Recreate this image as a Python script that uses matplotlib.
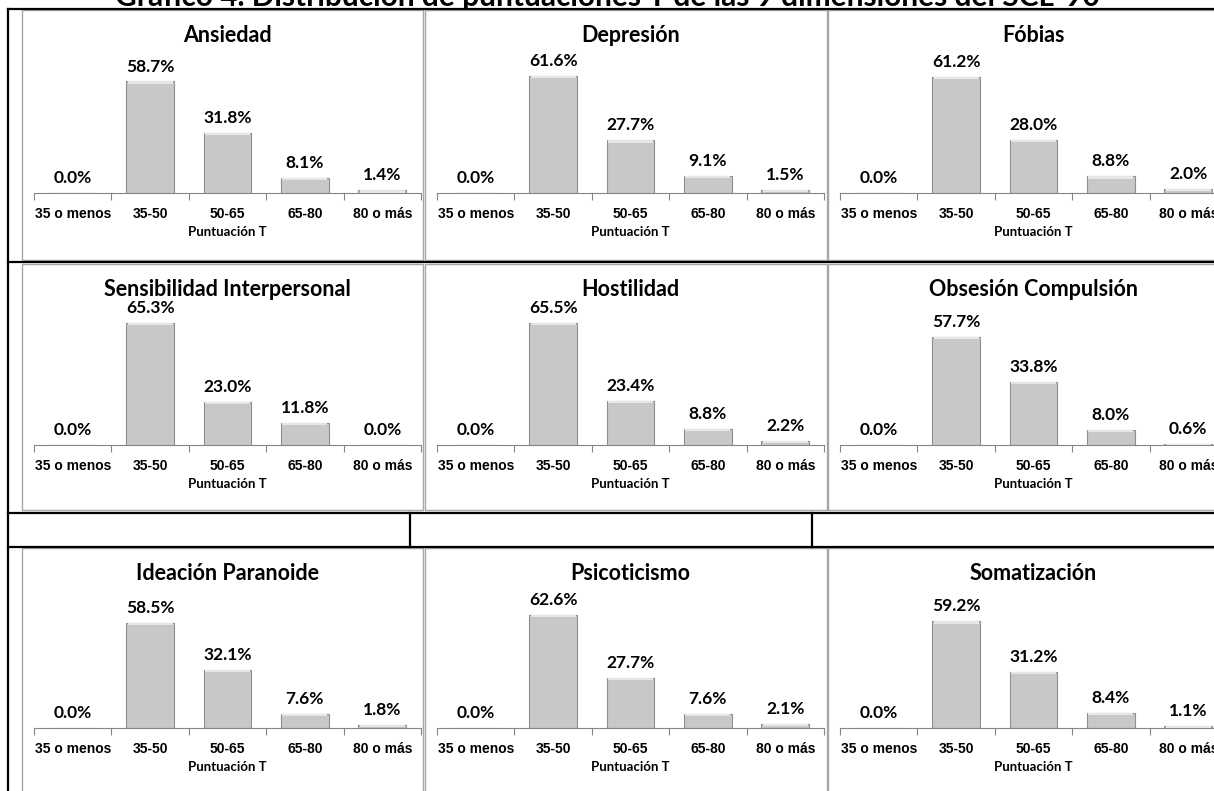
import numpy as np
import matplotlib
matplotlib.use("Agg")
import matplotlib.pyplot as plt
from matplotlib.patches import Rectangle
from matplotlib.lines import Line2D

# ---- data ----
categorias = ["35 o menos", "35-50", "50-65", "65-80", "80 o más"]
titulos = ["Ansiedad", "Depresión", "Fóbias",
           "Sensibilidad Interpersonal", "Hostilidad", "Obsesión Compulsión",
           "Ideación Paranoide", "Psicoticismo", "Somatización"]
ansiedad = [0.0, 58.7, 31.8, 8.1, 1.4]
depresion = [0.0, 61.6, 27.7, 9.1, 1.5]
fobias = [0.0, 61.2, 28.0, 8.8, 2.0]
sensibilidad = [0.0, 65.3, 23.0, 11.8, 0.0]
hostilidad = [0.0, 65.5, 23.4, 8.8, 2.2]
obsesion = [0.0, 57.7, 33.8, 8.0, 0.6]
paranoide = [0.0, 58.5, 32.1, 7.6, 1.8]
psicoticismo = [0.0, 62.6, 27.7, 7.6, 2.1]
somatizacion = [0.0, 59.2, 31.2, 8.4, 1.1]
series = [ansiedad, depresion, fobias, sensibilidad, hostilidad, obsesion,
          paranoide, psicoticismo, somatizacion]
titulo_general = "Gráfico 4. Distribución de puntuaciones T de las 9 dimensiones del SCL-90"
xlabel = "Puntuación T"

# ---- layout (pixels) ----
W, H = 1214, 791
fig = plt.figure(figsize=(W / 100, H / 100), dpi=100)

def fx(px):
    return px / W

def fy(py):
    return 1 - py / H

col_left = [22, 425, 828]
col_right = [423, 827, 1232]
row_top = [10, 264, 548]
row_bot = [260, 510, 800]
base_y = [193, 445, 728]
ppp = [1.9, 1.87, 1.8]          # pixels per percent in each row
ax_h = 135
ax_w = 387

TFONT = ["Lato", "DejaVu Sans"]
NFONT = ["Liberation Sans", "DejaVu Sans"]

# black table lines
black = dict(color="black", lw=1.6, transform=fig.transFigure, zorder=5)
fig.add_artist(Line2D([fx(8), fx(8)], [fy(9), fy(H + 5)], **black))
fig.add_artist(Line2D([fx(8), fx(W)], [fy(9), fy(9)], **black))
fig.add_artist(Line2D([fx(8), fx(W)], [fy(262), fy(262)], **black))
fig.add_artist(Line2D([fx(8), fx(W)], [fy(513), fy(513)], **black))
fig.add_artist(Line2D([fx(8), fx(W)], [fy(547), fy(547)], **black))
for xv in (410, 812):
    fig.add_artist(Line2D([fx(xv), fx(xv)], [fy(513), fy(547)], **black))

fig.text(fx(607), fy(6), titulo_general, ha="center", va="baseline",
         fontsize=21.5, fontweight="bold", family=TFONT)

for i, (vals, tit) in enumerate(zip(series, titulos)):
    r, c = divmod(i, 3)
    # chart frame
    fig.add_artist(Rectangle((fx(col_left[c]), fy(row_bot[r])),
                             fx(col_right[c] - col_left[c]),
                             (row_bot[r] - row_top[r]) / H,
                             transform=fig.transFigure, fill=False,
                             edgecolor="#a6a6a6", lw=1.0, zorder=4))
    ax_left = col_left[c] + 12
    ax = fig.add_axes([fx(ax_left), fy(base_y[r]), ax_w / W, ax_h / H])
    x = np.arange(len(categorias))
    ax.bar(x, vals, width=0.62, color="#c8c8c8", edgecolor="#8f8f8f",
           linewidth=0.8, zorder=2)
    # light bevel along the top of each bar
    ax.bar(x, [min(v, 1.2) for v in vals], bottom=[max(v - 1.2, 0) for v in vals],
           width=0.58, color="#e6e6e6", linewidth=0, zorder=3)
    for xi, v in zip(x, vals):
        ax.annotate(f"{v:.1f}%", (xi, v), xytext=(0, 5),
                    textcoords="offset points", ha="center", va="bottom",
                    fontsize=12.5, fontweight="bold", family=TFONT)
    ax.set_xlim(-0.5, len(categorias) - 0.5)
    ax.set_ylim(0, ax_h / ppp[r])
    for s in ("top", "left", "right"):
        ax.spines[s].set_visible(False)
    ax.spines["bottom"].set_color("#868686")
    ax.set_yticks([])
    ax.set_xticks(np.arange(-0.5, len(categorias)), labels=[""] * (len(categorias) + 1))
    ax.tick_params(axis="x", which="major", length=5, color="#868686")
    ax.set_xticks(x, labels=categorias, minor=True)
    ax.tick_params(axis="x", which="minor", length=0, pad=10)
    for lab in ax.get_xticklabels(minor=True):
        lab.set_family(NFONT)
        lab.set_fontsize(10)
        lab.set_fontweight("bold")
    ax.set_xlabel(xlabel, fontsize=9.5, fontweight="bold", family=TFONT, labelpad=4)
    ax.patch.set_visible(False)
    fig.text(fx(ax_left + ax_w / 2), fy(row_top[r] + 25), tit, ha="center",
             va="center", fontsize=15.5, fontweight="bold", family=TFONT)

fig.savefig("out.png", dpi=100)
